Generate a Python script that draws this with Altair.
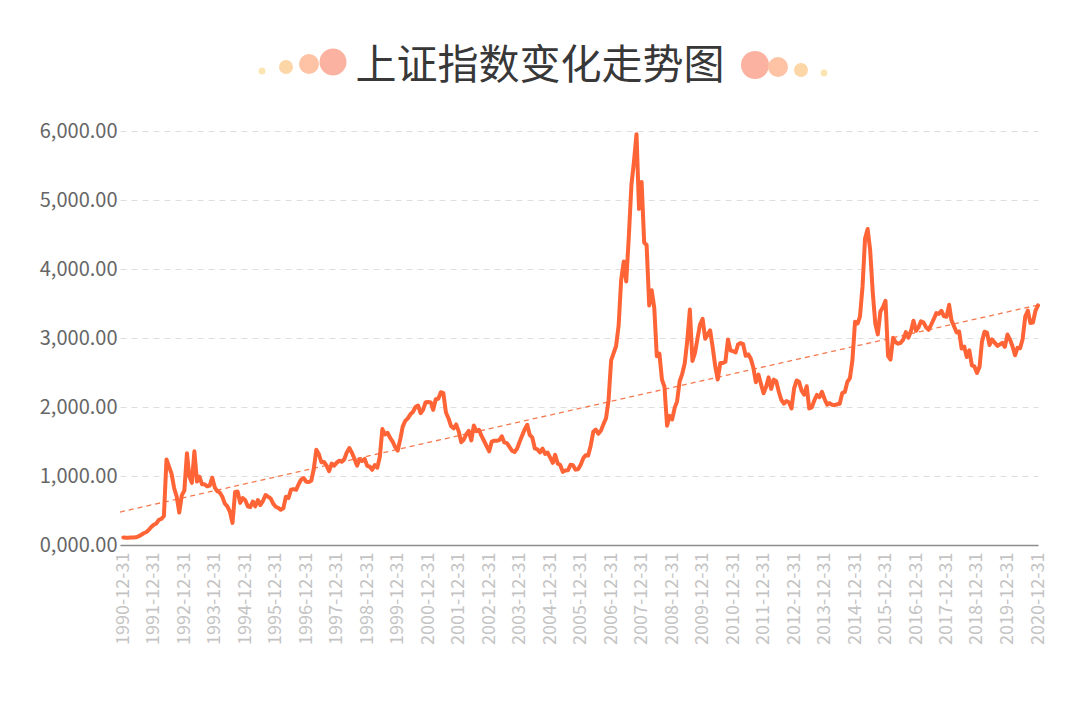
import altair as alt
import pandas as pd

# Monthly closes of the Shanghai Composite, 1990-12 .. 2020-12
v1990 = [110]
v1991 = [104, 106, 108, 110, 112, 125, 145, 170, 185, 218, 260, 293]
v1992 = [313, 365, 379, 420, 1240, 1140, 1030, 823, 703, 470, 720, 790]
v1993 = [1330, 1000, 900, 1358, 920, 990, 880, 880, 850, 860, 975, 833]
v1994 = [778, 760, 700, 600, 560, 480, 320, 770, 775, 610, 680, 648]
v1995 = [560, 549, 630, 560, 652, 580, 640, 725, 700, 676, 600, 555]
v1996 = [537, 510, 531, 700, 680, 800, 810, 800, 880, 950, 970, 917]
v1997 = [913, 930, 1105, 1380, 1315, 1199, 1203, 1150, 1070, 1179, 1150, 1194]
v1998 = [1222, 1206, 1243, 1342, 1405, 1339, 1250, 1150, 1242, 1217, 1247, 1147]
v1999 = [1134, 1090, 1158, 1120, 1279, 1680, 1602, 1627, 1556, 1498, 1422, 1367]
v2000 = [1534, 1715, 1800, 1836, 1894, 1928, 2000, 2022, 1910, 1961, 2070, 2073]
v2001 = [2065, 1959, 2112, 2119, 2214, 2200, 1920, 1834, 1724, 1690, 1747, 1646]
v2002 = [1490, 1524, 1603, 1654, 1516, 1732, 1649, 1669, 1581, 1507, 1434, 1358]
v2003 = [1499, 1511, 1510, 1521, 1576, 1487, 1476, 1421, 1367, 1348, 1397, 1497]
v2004 = [1590, 1675, 1742, 1595, 1555, 1399, 1386, 1342, 1396, 1320, 1340, 1267]
v2005 = [1191, 1306, 1181, 1159, 1060, 1080, 1083, 1162, 1155, 1092, 1099, 1161]
v2006 = [1258, 1299, 1298, 1440, 1641, 1672, 1612, 1658, 1752, 1837, 2099, 2675]
v2007 = [2786, 2881, 3183, 3841, 4109, 3820, 4471, 5218, 5552, 5954, 4871, 5262]
v2008 = [4383, 4348, 3472, 3693, 3433, 2736, 2775, 2397, 2293, 1729, 1871, 1821]
v2009 = [1991, 2082, 2373, 2477, 2633, 2959, 3412, 2667, 2779, 2996, 3195, 3277]
v2010 = [2989, 3051, 3110, 2871, 2592, 2398, 2638, 2638, 2656, 2979, 2820, 2808]
v2011 = [2790, 2905, 2928, 2911, 2743, 2762, 2701, 2568, 2359, 2469, 2333, 2199]
v2012 = [2293, 2429, 2263, 2397, 2373, 2225, 2103, 2048, 2086, 2069, 1980, 2269]
v2013 = [2385, 2366, 2237, 2178, 2301, 1979, 1994, 2098, 2175, 2142, 2220, 2116]
v2014 = [2033, 2056, 2033, 2026, 2039, 2048, 2202, 2218, 2364, 2420, 2683, 3235]
v2015 = [3210, 3310, 3748, 4442, 4580, 4277, 3664, 3206, 3053, 3383, 3446, 3539]
v2016 = [2738, 2688, 3004, 2938, 2917, 2930, 2979, 3085, 3005, 3100, 3250, 3104]
v2017 = [3159, 3242, 3223, 3155, 3117, 3192, 3273, 3361, 3349, 3393, 3317, 3307]
v2018 = [3481, 3259, 3169, 3082, 3095, 2847, 2876, 2725, 2821, 2603, 2588, 2494]
v2019 = [2585, 2941, 3091, 3078, 2899, 2979, 2933, 2886, 2905, 2929, 2872, 3050]
v2020 = [2977, 2880, 2750, 2860, 2852, 2985, 3310, 3396, 3218, 3225, 3392, 3473]

trend_dates = ["1990-11-21", "2020-12-31"]
trend_values = [478, 3478]

tick_years = list(range(1990, 2021))
y_ticks = [0, 1000, 2000, 3000, 4000, 5000, 6000]

title_text = "上证指数变化走势图"

values = (v1990 + v1991 + v1992 + v1993 + v1994 + v1995 + v1996 + v1997 + v1998
          + v1999 + v2000 + v2001 + v2002 + v2003 + v2004 + v2005 + v2006 + v2007
          + v2008 + v2009 + v2010 + v2011 + v2012 + v2013 + v2014 + v2015 + v2016
          + v2017 + v2018 + v2019 + v2020)

try:
    dates = pd.date_range("1990-12-31", "2020-12-31", freq="ME")
except Exception:
    dates = pd.date_range("1990-12-31", "2020-12-31", freq="M")
df = pd.DataFrame({"date": dates.strftime("%Y-%m-%d"), "value": values})
trend_df = pd.DataFrame({"date": trend_dates, "value": trend_values})

FONT = "Noto Sans CJK SC"
LINE_COLOR = "#ff6436"
PAD_L, PAD_T = 120, 131

x_scale = alt.Scale(type="utc",
                    domain=[alt.DateTime(year=1990, month=11, date=21, utc=True),
                            alt.DateTime(year=2020, month=12, date=31, utc=True)])
y_scale = alt.Scale(domain=[0, 6000], nice=False)


def x_axis():
    return alt.Axis(
        values=[alt.DateTime(year=yy, month=12, date=31, utc=True) for yy in tick_years],
        labelExpr="utcFormat(datum.value, '%Y-%m-%d')",
        labelAngle=270, labelAlign="right", labelBaseline="middle",
        labelColor="#c4c4c4", labelFontSize=18, labelFont=FONT, labelPadding=7,
        labelOverlap=False, labelFlush=False, labelBound=False, labelSeparation=0,
        ticks=False, grid=False, domainColor="#8c8c8c", domainWidth=1.5, title=None,
    )


def y_axis():
    return alt.Axis(
        values=y_ticks,
        labelExpr="datum.value == 0 ? '0,000.00' : format(datum.value, ',.2f')",
        labelColor="#666666", labelFontSize=20, labelFont=FONT, labelPadding=3,
        ticks=False, domain=False, grid=True, gridColor="#dedede", gridDash=[6, 5],
        gridWidth=1, title=None, labelOverlap=False,
    )


trend = alt.Chart(trend_df).mark_line(
    color="#f47a50", strokeWidth=1.3, strokeDash=[5, 4]
).encode(
    x=alt.X("date:T", scale=x_scale, axis=x_axis()),
    y=alt.Y("value:Q", scale=y_scale, axis=y_axis()),
)

line = alt.Chart(df).mark_line(
    color=LINE_COLOR, strokeWidth=4, strokeJoin="round", strokeCap="round"
).encode(
    x=alt.X("date:T", scale=x_scale, axis=x_axis()),
    y=alt.Y("value:Q", scale=y_scale, axis=y_axis()),
)

one = alt.Data(values=[{"k": 1}])

title = alt.Chart(one).mark_text(
    font=FONT, fontSize=41, color="#383838", align="center", baseline="middle"
).encode(
    x=alt.value(540 - PAD_L), y=alt.value(67 - PAD_T), text=alt.value(title_text)
)


def dot(cx, cy, r, color):
    return alt.Chart(one).mark_circle(color=color, opacity=1).encode(
        x=alt.value(cx - PAD_L), y=alt.value(cy - PAD_T),
        size=alt.value((2 * r) ** 2),
    )


dots = [
    dot(262, 71, 3.5, "#fbe6b3"),
    dot(286, 67, 7, "#fdd6a8"),
    dot(309, 64, 10, "#fdc3a4"),
    dot(333, 62, 13.5, "#fcb2a0"),
    dot(755, 65, 14, "#fcb2a0"),
    dot(778, 67, 10, "#fdc3a4"),
    dot(801, 70, 7, "#fdd6a8"),
    dot(824, 73, 3.5, "#fbe6b3"),
]

chart = alt.layer(trend, line, title, *dots).properties(
    width=918, height=414,
    autosize=alt.AutoSizeParams(type="none"),
    padding={"left": PAD_L, "top": PAD_T, "right": 42, "bottom": 169},
    background="white",
).configure_view(stroke=None).configure_axis(labelOverlap=False)

chart.save("out.html", embed_options={"renderer": "svg", "actions": False})
